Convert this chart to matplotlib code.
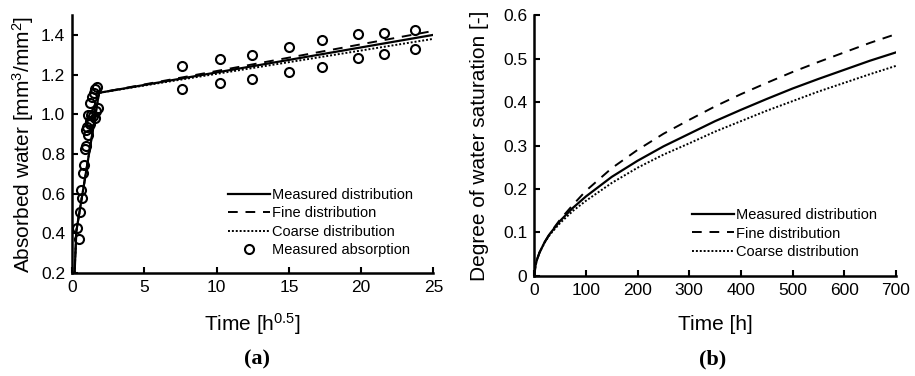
import numpy as np
import matplotlib
matplotlib.use("Agg")
from matplotlib import pyplot as plt

plt.rcParams['font.family'] = ['Liberation Sans', 'DejaVu Sans']
plt.rcParams['mathtext.default'] = 'regular'

# (a) absorbed water vs sqrt(time)
abs_x = [0.35, 0.44, 0.53, 0.62, 0.67, 0.74, 0.81, 0.86, 0.95, 0.97, 1.04, 1.09,
         1.11, 1.2, 1.25, 1.2, 1.32, 1.36, 1.45, 1.5, 1.55, 1.59, 1.66, 1.73, 1.78,
         7.57, 7.57, 10.23, 10.23, 12.42, 12.42, 15.03, 15.03, 17.27, 17.27,
         19.81, 19.81, 21.61, 21.61, 23.73, 23.73]
abs_y = [0.425, 0.369, 0.506, 0.619, 0.58, 0.703, 0.742, 0.826, 0.922, 0.838, 0.934, 0.897,
         0.998, 0.965, 0.95, 1.058, 0.998, 1.086, 0.99, 1.108, 0.98, 1.125, 1.015, 1.139, 1.032,
         1.243, 1.125, 1.277, 1.155, 1.297, 1.179, 1.339, 1.214, 1.375, 1.238,
         1.404, 1.285, 1.41, 1.306, 1.425, 1.328]

line_x = [0.16, 0.28, 1.85, 25]
meas_a = [0.2, 0.41, 1.108, 1.40]
fine_a = [0.2, 0.41, 1.108, 1.42]
coarse_a = [0.2, 0.41, 1.108, 1.38]

# (b) degree of saturation vs time
t_h = [0, 2, 5, 10, 20, 30, 50, 75, 100, 150, 200, 250, 300, 350, 400, 450, 500, 550, 600, 650, 700]
meas_b = [0, 0.023, 0.0375, 0.054, 0.078, 0.097, 0.127, 0.157, 0.183, 0.228, 0.265, 0.298,
          0.327, 0.356, 0.382, 0.407, 0.431, 0.453, 0.474, 0.495, 0.514]
fine_b = [0, 0.023, 0.0375, 0.054, 0.078, 0.098, 0.130, 0.164, 0.196, 0.248, 0.290, 0.327,
          0.359, 0.390, 0.418, 0.444, 0.469, 0.492, 0.514, 0.536, 0.556]
coarse_b = [0, 0.023, 0.037, 0.054, 0.077, 0.095, 0.122, 0.150, 0.173, 0.214, 0.249, 0.279,
            0.305, 0.332, 0.356, 0.380, 0.402, 0.424, 0.444, 0.464, 0.483]

fig = plt.figure(figsize=(9.15, 3.76), dpi=100)
ax1 = fig.add_axes([0.079, 0.274, 0.3946, 0.686])
ax2 = fig.add_axes([0.584, 0.266, 0.395, 0.694])


def style(ax):
    for s in ['top', 'right']:
        ax.spines[s].set_visible(False)
    for s in ['left', 'bottom']:
        ax.spines[s].set_linewidth(1.8)
    ax.tick_params(direction='in', length=4, width=1.5, labelsize=12.5, pad=5)


ax1.plot(line_x, meas_a, 'k-', lw=1.6, label='Measured distribution')
ax1.plot(line_x, fine_a, 'k--', lw=1.4, dashes=(5, 4), label='Fine distribution')
ax1.plot(line_x, coarse_a, 'k:', lw=1.4, dashes=(1, 1), label='Coarse distribution')
ax1.plot(abs_x, abs_y, 'o', mfc='none', mec='k', mew=1.5, ms=6.5, label='Measured absorption')
ax1.set_xlim(0, 25)
ax1.set_ylim(0.2, 1.5)
ax1.set_xticks([0, 5, 10, 15, 20, 25])
ax1.set_yticks([0.2, 0.4, 0.6, 0.8, 1.0, 1.2, 1.4])
ax1.yaxis.set_major_formatter(matplotlib.ticker.FormatStrFormatter('%.1f'))
ax1.set_xlabel('Time [h$^{0.5}$]', fontsize=15, labelpad=12)
ax1.set_ylabel('Absorbed water [mm$^3$/mm$^2$]', fontsize=15, labelpad=4)
style(ax1)
ax1.legend(loc='upper left', bbox_to_anchor=(0.43, 0.329), frameon=False, fontsize=10.5,
           handlelength=2.9, handletextpad=0.15, labelspacing=0.3, borderpad=0, borderaxespad=0)

ax2.plot(t_h, meas_b, 'k-', lw=1.6, label='Measured distribution')
ax2.plot(t_h, fine_b, 'k--', lw=1.4, dashes=(5, 4), label='Fine distribution')
ax2.plot(t_h, coarse_b, 'k:', lw=1.4, dashes=(1, 1), label='Coarse distribution')
ax2.set_xlim(0, 700)
ax2.set_ylim(0, 0.6)
ax2.set_xticks(range(0, 701, 100))
ax2.set_yticks([0, 0.1, 0.2, 0.3, 0.4, 0.5, 0.6])
ax2.yaxis.set_major_formatter(matplotlib.ticker.FuncFormatter(lambda v, p: '0' if v == 0 else '%.1f' % v))
ax2.set_xlabel('Time [h]', fontsize=15, labelpad=12)
ax2.set_ylabel('Degree of water saturation [-]', fontsize=15, labelpad=10)
style(ax2)
ax2.legend(loc='upper left', bbox_to_anchor=(0.435, 0.26), frameon=False, fontsize=10.5,
           handlelength=2.9, handletextpad=0.15, labelspacing=0.3, borderpad=0, borderaxespad=0)

fig.text(0.281, 0.043, '(a)', fontsize=16, fontweight='bold', family='Liberation Serif',
         ha='center', va='center')
fig.text(0.779, 0.043, '(b)', fontsize=16, fontweight='bold', family='Liberation Serif',
         ha='center', va='center')

fig.savefig('out.png', dpi=100)
